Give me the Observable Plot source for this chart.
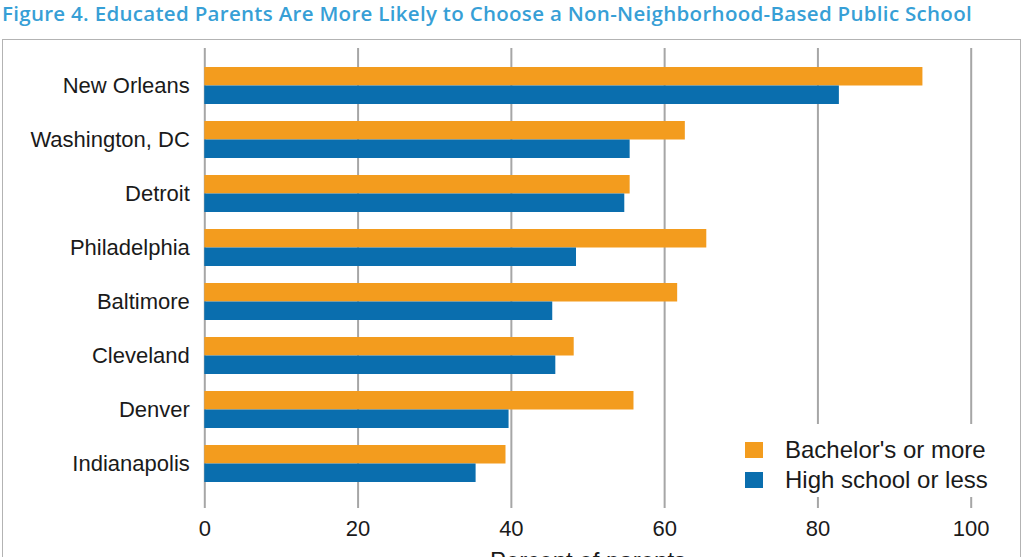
<!DOCTYPE html>
<html>
<head>
<meta charset="utf-8">
<script src="https://cdn.jsdelivr.net/npm/d3@7"></script>
<script src="https://cdn.jsdelivr.net/npm/@observablehq/plot@0.6"></script>
<style>
  html, body { margin: 0; padding: 0; background: #fff; }
  #wrap { position: relative; width: 1024px; height: 557px; overflow: hidden; background: #fff; }
  #title { position: absolute; left: 2px; top: 0px; font-family: "Open Sans", sans-serif; font-weight: 600; font-size: 20.5px; line-height: 27px; color: #379fd6; white-space: nowrap; }
  #frame { position: absolute; left: 2px; top: 39px; width: 1019px; height: 640px; border: 1.5px solid #b3b3b3; box-sizing: border-box; }
  #chart { position: absolute; left: 0; top: 39px; }
  #legend { position: absolute; left: 735px; top: 424px; width: 265px; height: 73px; background: #fff; font-family: "Liberation Sans", Arial, sans-serif; font-size: 24px; color: #1a1a1a; }
  .item { position: absolute; left: 0; white-space: nowrap; }
  .sw { position: absolute; left: 10px; width: 18px; height: 16px; }
  .lab { position: absolute; left: 50px; line-height: 24px; }
</style>
</head>
<body>
<div id="wrap">
  <div id="title"></div>
  <div id="frame"></div>
  <div id="chart"></div>
  <div id="legend"></div>
</div>
<script>
const titleText = "Figure 4. Educated Parents Are More Likely to Choose a Non-Neighborhood-Based Public School";
const cities = ["New Orleans", "Washington, DC", "Detroit", "Philadelphia", "Baltimore", "Cleveland", "Denver", "Indianapolis"];
const bachelors = [93.7, 62.7, 55.5, 65.5, 61.7, 48.2, 56.0, 39.3];
const highSchool = [82.8, 55.5, 54.8, 48.5, 45.4, 45.8, 39.7, 35.4];
const seriesNames = ["Bachelor's or more", "High school or less"];
const seriesColors = ["#F39C1E", "#0A6EAE"];
const xTicks = [0, 20, 40, 60, 80, 100];
const axisLabel = "Percent of parents";

const rows = [];
cities.forEach((c, i) => {
  rows.push({city: c, series: seriesNames[0], value: bachelors[i]});
  rows.push({city: c, series: seriesNames[1], value: highSchool[i]});
});

// title, fitted to the reference width
const t = document.getElementById("title");
t.textContent = titleText;
const natural = t.getBoundingClientRect().width;
t.style.letterSpacing = ((970 - natural) / titleText.length) + "px";

const chart = Plot.plot({
  width: 1024,
  height: 560,
  marginLeft: 204.3,
  marginRight: 53.3,
  marginTop: 9,
  marginBottom: 91,
  style: {fontFamily: "'Liberation Sans', Arial, sans-serif", fontSize: "22px", color: "#1a1a1a", background: "transparent", overflow: "visible"},
  x: {domain: [0, 100], ticks: xTicks, tickSize: 0, tickPadding: 12, label: null},
  y: {domain: cities, paddingInner: 0.3166, paddingOuter: 0.4066, align: 0.416, tickSize: 0, tickPadding: 15, label: null},
  marks: [
    Plot.ruleX(xTicks, {stroke: "#a6a6a6", strokeWidth: 2}),
    Plot.barX(rows.filter(d => d.series === seriesNames[0]), {x: "value", y: "city", fill: seriesColors[0], insetBottom: 18.5}),
    Plot.barX(rows.filter(d => d.series === seriesNames[1]), {x: "value", y: "city", fill: seriesColors[1], insetTop: 18.5}),
    Plot.text([axisLabel], {frameAnchor: "bottom", dy: 60, fontSize: 24, fill: "#1a1a1a"})
  ]
});
document.getElementById("chart").appendChild(chart);

// legend
const lg = document.getElementById("legend");
seriesNames.forEach((s, i) => {
  const item = document.createElement("div");
  item.className = "item";
  item.style.top = (17.7 + i * 30) + "px";
  item.innerHTML = `<div class="sw" style="background:${seriesColors[i]};top:0"></div><div class="lab" style="top:-4px">${s}</div>`;
  lg.appendChild(item);
});
</script>
</body>
</html>
